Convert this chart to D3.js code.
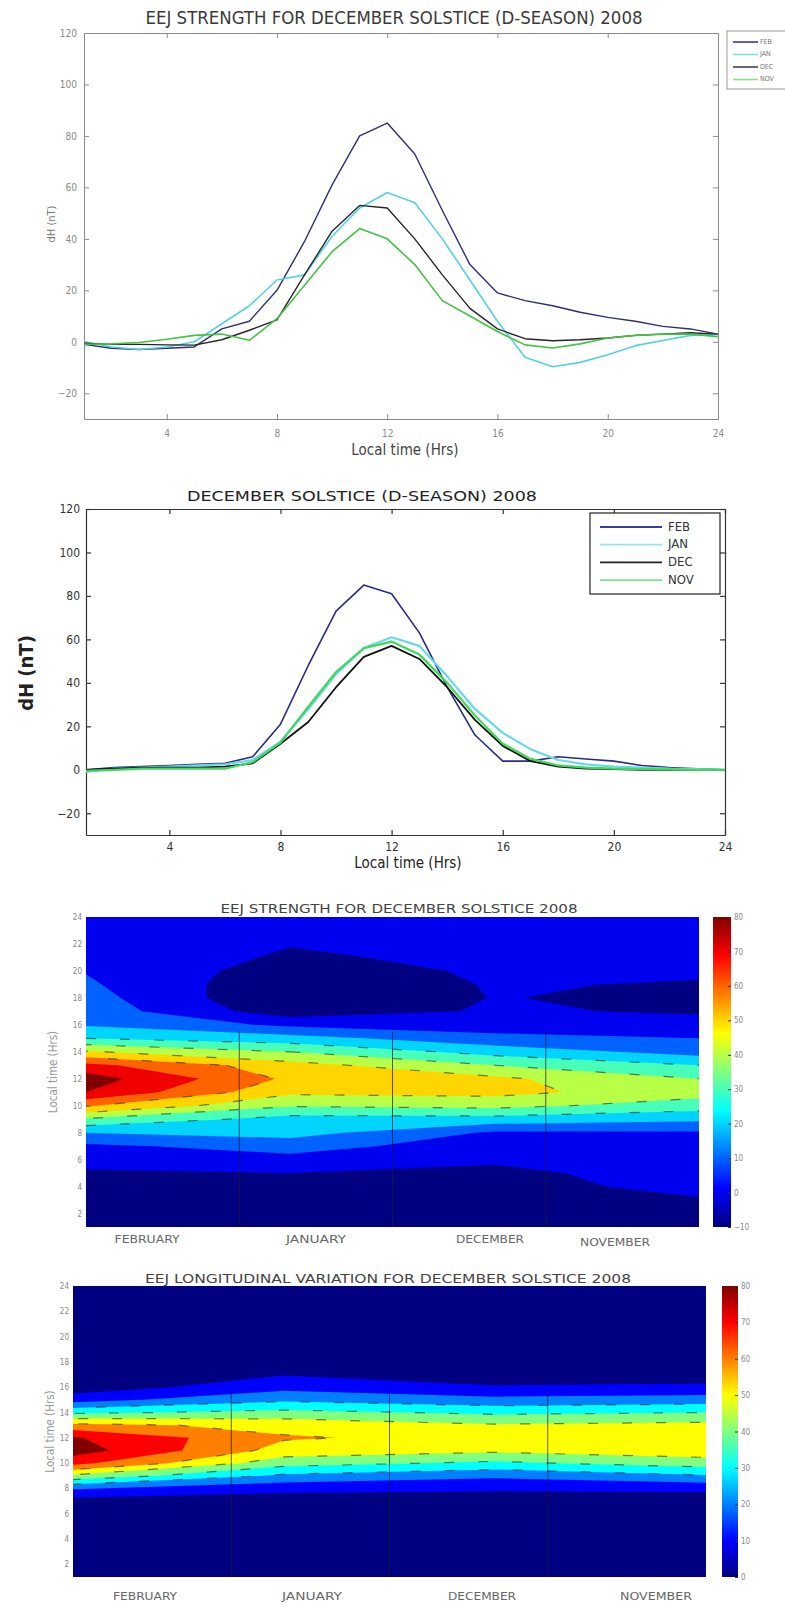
<!DOCTYPE html>
<html><head><meta charset="utf-8">
<script src="https://cdn.jsdelivr.net/npm/d3@7"></script>
<style>body{margin:0;background:#fff}svg{display:block}text{font-family:"Liberation Sans Narrow","DejaVu Sans Condensed","Liberation Sans",sans-serif}</style>
</head><body>
<svg id="c" width="785" height="1606"></svg>
<script>
// ---------------- data ----------------
const hours = d3.range(1, 25);
const months = ["FEB", "JAN", "DEC", "NOV"];
const monthLabels = ["FEBRUARY", "JANUARY", "DECEMBER", "NOVEMBER"];

// Panel 1: EEJ strength (dH, nT) per local hour 1..24
const febStrength = [-1, -2.5, -3, -2.5, -2, 5, 8, 20, 39, 61, 80, 85, 73, 51, 30, 19, 16, 14, 11.5, 9.5, 8, 6, 5, 3];
const janStrength = [0, -2, -3, -2, 0, 7, 14, 24, 26, 41, 52, 58, 54, 40, 24, 8, -6, -9.7, -8, -5, -1.5, 0.5, 2.5, 3];
const decStrength = [-0.5, -1, -1, -1.2, -1.3, 0.8, 4.5, 8.5, 26, 43, 53, 52, 40, 26, 13, 5, 1.2, 0.4, 0.8, 1.5, 2.5, 3, 3.5, 3];
const novStrength = [-1, -0.8, -0.3, 1, 2.5, 3, 0.6, 9, 22, 35, 44, 40, 30, 16, 10, 4, -1.2, -2.4, -0.8, 1.5, 2.5, 3, 3, 2];

// Panel 2: December solstice (D-season) 2008 per local hour 1..24
const febSeason = [0, 1, 1.5, 2, 2.5, 3, 6, 21, 48, 73, 85, 81, 63, 38, 16, 4, 4, 6, 5, 4, 2, 1, 0.5, 0];
const janSeason = [-1, 0.5, 1, 1.5, 2, 2.5, 4.5, 13, 28, 44, 56, 61, 57, 43, 28, 17, 9.5, 4.5, 2.5, 1.5, 1, 0.5, 0.3, 0];
const decSeason = [0, 0.5, 1, 1, 1, 1.5, 3, 12, 22, 38, 52, 57, 51, 38, 23, 11, 4, 1.5, 0.5, 0.3, 0, 0, 0, 0];
const novSeason = [-0.5, 0, 0.5, 0.5, 0.5, 0.5, 3.5, 12.5, 29, 45, 56, 59, 53, 40, 25, 12, 5, 2, 1, 0.5, 0.3, 0.2, 0, 0];

const xTicks = [4, 8, 12, 16, 20, 24];
const yTicks = [-20, 0, 20, 40, 60, 80, 100, 120];
const hourTicks = [2, 4, 6, 8, 10, 12, 14, 16, 18, 20, 22, 24];
const levels3 = [-10, 0, 10, 20, 30, 40, 50, 60, 70, 80];
const levels4 = [0, 10, 20, 30, 40, 50, 60, 70, 80];
const cbTicks3 = [-10, 0, 10, 20, 30, 40, 50, 60, 70, 80];
const cbTicks4 = [0, 10, 20, 30, 40, 50, 60, 70, 80];

// ---------------- helpers ----------------
const svg = d3.select("#c");
const defs = svg.append("defs");

function jet(t) {
  t = Math.max(0, Math.min(1, t));
  const c = v => Math.round(255 * Math.max(0, Math.min(1, v)));
  return `rgb(${c(1.5 - Math.abs(4 * t - 3))},${c(1.5 - Math.abs(4 * t - 2))},${c(1.5 - Math.abs(4 * t - 1))})`;
}

function title(txt, cx, y, size, len, color) {
  svg.append("text").attr("x", cx).attr("y", y).attr("text-anchor", "middle")
    .attr("font-size", size).attr("fill", color)
    .attr("textLength", len).attr("lengthAdjust", "spacingAndGlyphs").text(txt);
}

function linePanel(cfg) {
  const xs = d3.scaleLinear().domain([1, 24]).range([cfg.x0, cfg.x1]);
  const ys = d3.scaleLinear().domain([-30, 120]).range([cfg.y1, cfg.y0]);
  const g = svg.append("g");
  g.append("rect").attr("x", cfg.x0).attr("y", cfg.y0).attr("width", cfg.x1 - cfg.x0)
    .attr("height", cfg.y1 - cfg.y0).attr("fill", "#fff");
  const styleAxis = (sel) => {
    sel.selectAll("path.domain").attr("stroke", cfg.axisColor).attr("stroke-width", cfg.axisWidth);
    sel.selectAll(".tick line").attr("stroke", cfg.axisColor).attr("stroke-width", cfg.axisWidth);
    sel.selectAll(".tick text").attr("fill", cfg.labelColor).attr("font-size", cfg.tickFont)
      .attr("font-family", cfg.tickFamily);
  };
  g.append("g").attr("transform", `translate(0,${cfg.y1})`)
    .call(d3.axisBottom(xs).tickValues(xTicks).tickSizeInner(-5).tickSizeOuter(0).tickPadding(cfg.xPad))
    .call(styleAxis);
  g.append("g").attr("transform", `translate(0,${cfg.y0})`)
    .call(d3.axisTop(xs).tickValues(xTicks).tickSizeInner(-5).tickSizeOuter(0).tickFormat(""))
    .call(styleAxis);
  g.append("g").attr("transform", `translate(${cfg.x0},0)`)
    .call(d3.axisLeft(ys).tickValues(yTicks).tickSizeInner(-5).tickSizeOuter(0).tickPadding(cfg.yPad))
    .call(styleAxis);
  g.append("g").attr("transform", `translate(${cfg.x1},0)`)
    .call(d3.axisRight(ys).tickValues(yTicks).tickSizeInner(-5).tickSizeOuter(0).tickFormat(""))
    .call(styleAxis);
  const line = d3.line().x((d, i) => xs(hours[i])).y(d => ys(d));
  cfg.series.forEach((s, k) => {
    g.append("path").datum(s).attr("d", line).attr("fill", "none")
      .attr("stroke", cfg.colors[k]).attr("stroke-width", cfg.widths[k])
      .attr("stroke-linejoin", "round");
  });
  g.append("text").attr("x", cfg.xlab[0]).attr("y", cfg.xlab[1]).attr("text-anchor", "middle")
    .attr("font-size", cfg.xlab[2]).attr("fill", cfg.xlab[3]).attr("dominant-baseline", "middle")
    .text("Local time (Hrs)");
  g.append("text").attr("transform", `translate(${cfg.ylab[0]},${cfg.ylab[1]}) rotate(-90)`)
    .attr("text-anchor", "middle").attr("dominant-baseline", "middle")
    .attr("font-size", cfg.ylab[2]).attr("fill", cfg.ylab[3]).attr("font-weight", cfg.ylab[4])
    .attr("font-family", cfg.ylab[5]).text("dH (nT)");
  const L = cfg.legend;
  g.append("rect").attr("x", L.x).attr("y", L.y).attr("width", L.w).attr("height", L.h)
    .attr("fill", "#fff").attr("stroke", L.stroke).attr("stroke-width", L.sw);
  months.forEach((m, k) => {
    const yy = L.y + L.first + k * L.step;
    g.append("line").attr("x1", L.lx0).attr("x2", L.lx1).attr("y1", yy).attr("y2", yy)
      .attr("stroke", L.colors[k]).attr("stroke-width", L.lw);
    g.append("text").attr("x", L.tx).attr("y", yy).attr("dominant-baseline", "middle")
      .attr("font-size", L.font).attr("fill", L.textColor).attr("font-family", "Liberation Sans, sans-serif")
      .text(m);
  });
}

function contourPanel(cfg) {
  const nx = months.length, ny = hours.length;
  const values = new Array(nx * ny);
  for (let j = 0; j < ny; j++) for (let i = 0; i < nx; i++) values[j * nx + i] = cfg.series[i][j];
  const xs = d3.scaleLinear().domain([0, nx - 1]).range([cfg.x0, cfg.x1]);
  const ys = d3.scaleLinear().domain([1, 24]).range([cfg.y1, cfg.y0]);
  const proj = d3.geoTransform({
    point: function (x, y) { this.stream.point(xs(x - 0.5), ys(y + 0.5)); }
  });
  const path = d3.geoPath(proj);
  const cid = "clip" + cfg.id;
  defs.append("clipPath").attr("id", cid).append("rect")
    .attr("x", cfg.x0).attr("y", cfg.y0).attr("width", cfg.x1 - cfg.x0).attr("height", cfg.y1 - cfg.y0);
  const cs = d3.scaleLinear().domain([cfg.cmin, cfg.cmax]).range([0, 1]);
  const g = svg.append("g").attr("clip-path", `url(#${cid})`);
  g.append("rect").attr("x", cfg.x0).attr("y", cfg.y0).attr("width", cfg.x1 - cfg.x0)
    .attr("height", cfg.y1 - cfg.y0).attr("fill", jet(cs(cfg.levels[0])));
  const conts = d3.contours().size([nx, ny]).thresholds(cfg.levels)(values);
  conts.forEach(c => {
    g.append("path").attr("d", path(c)).attr("fill", jet(cs(c.value)));
  });
  conts.filter(c => c.value >= 30 && c.value <= 60).forEach(c => {
    g.append("path").attr("d", path(c)).attr("fill", "none").attr("stroke", "#1a1a1a")
      .attr("stroke-width", 1.2).attr("stroke-opacity", 0.55).attr("stroke-dasharray", "10 24");
  });
  [0.25, 0.5, 0.75].forEach(f => {
    const x = cfg.x0 + f * (cfg.x1 - cfg.x0);
    g.append("line").attr("x1", x).attr("x2", x).attr("y1", ys(15.5)).attr("y2", cfg.y1)
      .attr("stroke", "#1b1b3a").attr("stroke-width", 0.9).attr("stroke-opacity", 0.8);
  });
  const ga = svg.append("g").attr("transform", `translate(${cfg.x0},0)`)
    .call(d3.axisLeft(ys).tickValues(hourTicks).tickSize(0).tickPadding(4));
  ga.select("path.domain").remove();
  ga.selectAll(".tick text").attr("fill", "#888").attr("font-size", 8);
  svg.append("text").attr("transform", `translate(${cfg.ylabX},${(cfg.y0 + cfg.y1) / 2}) rotate(-90)`)
    .attr("text-anchor", "middle").attr("dominant-baseline", "middle").attr("font-size", 11.5)
    .attr("fill", "#999").text("Local time (Hrs)");
  monthLabels.forEach((m, k) => {
    svg.append("text").attr("x", cfg.monthX[k]).attr("y", cfg.monthY + (cfg.monthDy ? cfg.monthDy[k] : 0))
      .attr("text-anchor", "middle").attr("dominant-baseline", "middle")
      .attr("font-size", 11).attr("fill", "#666").attr("textLength", cfg.monthW[k])
      .attr("lengthAdjust", "spacingAndGlyphs").text(m);
  });
  const gid = "grad" + cfg.id;
  const grad = defs.append("linearGradient").attr("id", gid)
    .attr("x1", 0).attr("y1", 1).attr("x2", 0).attr("y2", 0);
  [0, 0.125, 0.375, 0.625, 0.875, 1].forEach(t => grad.append("stop").attr("offset", t).attr("stop-color", jet(t)));
  svg.append("rect").attr("x", cfg.cb[0]).attr("y", cfg.y0).attr("width", cfg.cb[1] - cfg.cb[0])
    .attr("height", cfg.y1 - cfg.y0).attr("fill", `url(#${gid})`);
  const cy = d3.scaleLinear().domain([cfg.cmin, cfg.cmax]).range([cfg.y1, cfg.y0]);
  const gc = svg.append("g").attr("transform", `translate(${cfg.cb[1]},0)`)
    .call(d3.axisRight(cy).tickValues(cfg.cbTicks).tickSizeInner(-3).tickSizeOuter(0).tickPadding(3));
  gc.select("path.domain").remove();
  gc.selectAll(".tick line").attr("stroke", "#333");
  gc.selectAll(".tick text").attr("fill", "#888").attr("font-size", 8);
}

// ---------------- Panel 1 ----------------
title("EEJ STRENGTH FOR DECEMBER SOLSTICE (D-SEASON) 2008", 394, 24, 17, 497, "#3a3a3a");
linePanel({
  x0: 84, x1: 718, y0: 33, y1: 419,
  series: [febStrength, janStrength, decStrength, novStrength],
  colors: ["#2e2e78", "#55d0e2", "#262626", "#44c244"],
  widths: [1.4, 1.6, 1.4, 1.6],
  axisColor: "#8a8a8a", axisWidth: 1, labelColor: "#8a8a8a", tickFont: 10,
  tickFamily: "Liberation Sans Narrow, sans-serif", xPad: 11, yPad: 7,
  xlab: [405, 450, 15, "#444"],
  ylab: [52, 224, 11, "#777", "normal", "Liberation Sans, sans-serif"],
  legend: { x: 727, y: 31, w: 60, h: 58, stroke: "#999", sw: 1, first: 11, step: 12.5,
    lx0: 733, lx1: 758, tx: 760, font: 7, textColor: "#777", lw: 1.6,
    colors: ["#3a3a9a", "#80e0ea", "#444", "#8fe08f"] }
});

// ---------------- Panel 2 ----------------
title("DECEMBER SOLSTICE (D-SEASON) 2008", 362, 501, 14, 350, "#222");
linePanel({
  x0: 86, x1: 725, y0: 509, y1: 835,
  series: [febSeason, janSeason, decSeason, novSeason],
  colors: ["#2a2a8a", "#6ad8ec", "#111111", "#3fd85a"],
  widths: [1.6, 2.2, 1.8, 2.2],
  axisColor: "#333", axisWidth: 1.2, labelColor: "#333", tickFont: 12,
  tickFamily: "Liberation Sans, sans-serif", xPad: 7, yPad: 6,
  xlab: [408, 863, 15, "#222"],
  ylab: [27, 673, 20, "#222", "bold", "Liberation Sans, sans-serif"],
  legend: { x: 590, y: 513, w: 130, h: 81, stroke: "#222", sw: 1.2, first: 14, step: 17.7,
    lx0: 600, lx1: 662, tx: 668, font: 13, textColor: "#333", lw: 1.8,
    colors: ["#3b3b9b", "#8fe4f0", "#222", "#7fe08f"] }
});

// ---------------- Panel 3 ----------------
title("EEJ STRENGTH FOR DECEMBER SOLSTICE 2008", 399, 913, 13, 357, "#444");
contourPanel({
  id: 3, x0: 86, x1: 699, y0: 917, y1: 1227,
  series: [febStrength, janStrength, decStrength, novStrength],
  levels: levels3, cmin: -10, cmax: 80, cbTicks: cbTicks3,
  cb: [713, 731], ylabX: 53,
  monthX: [147, 316, 490, 615], monthY: 1240, monthDy: [0, 0, 0, 3], monthW: [65, 60, 68, 70]
});

// ---------------- Panel 4 ----------------
title("EEJ LONGITUDINAL VARIATION FOR DECEMBER SOLSTICE 2008", 388, 1283, 13, 486, "#444");
contourPanel({
  id: 4, x0: 73, x1: 706, y0: 1286, y1: 1577,
  series: [febSeason, janSeason, decSeason, novSeason],
  levels: levels4, cmin: 0, cmax: 80, cbTicks: cbTicks4,
  cb: [722, 738], ylabX: 50,
  monthX: [145, 312, 482, 656], monthY: 1597, monthW: [64, 60, 68, 72]
});
</script>
</body></html>
